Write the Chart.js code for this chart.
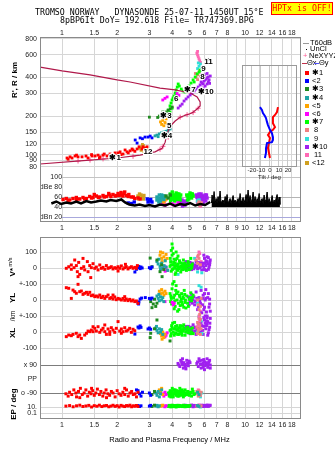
<!DOCTYPE html>
<html>
<head>
<meta charset="utf-8">
<title>Tromso Dynasonde ionogram</title>
<script src="https://cdn.jsdelivr.net/npm/chart.js@4.4.1/dist/chart.umd.min.js"></script>
<style>
  html, body { margin: 0; padding: 0; background: #fff; }
  #page { position: relative; width: 335px; height: 451px; overflow: hidden; font-family: 'Liberation Sans', Arial, sans-serif; color: #000; }
  #page canvas { position: absolute; left: 0; top: 0; }
  .txt { position: absolute; white-space: pre; line-height: 9px; }
  .mono { font-family: 'DejaVu Sans Mono', 'Liberation Mono', monospace; font-size: 8.25px; }
  .rot { position: absolute; white-space: pre; transform: translate(-50%, -50%) rotate(-90deg); font-weight: bold; font-size: 8px; line-height: 9px; }
  .lg { position: absolute; font-size: 7.5px; line-height: 8px; white-space: pre; }
  .sw { position: absolute; width: 4px; height: 4px; }
  .ln { position: absolute; height: 1px; }
  #hptx { position: absolute; left: 271px; top: 2px; width: 60px; height: 11px; border: 1px solid #f00; background: #ff0; color: #f00; text-align: center; line-height: 11px; }
</style>
</head>
<body>
<div id="page">
  <canvas id="cA" width="335" height="451"></canvas>
  <canvas id="cB" width="335" height="451"></canvas>
  <canvas id="cC" width="335" height="451"></canvas>
  <canvas id="cD" width="335" height="451"></canvas>

  <div class="txt mono" style="left:35px;top:8px">TROMSO NORWAY   DYNASONDE 25-07-11 1450UT 15°E</div>
  <div class="txt mono" style="left:60px;top:16px">8pBP6It DoY= 192.618 File= TR747369.BPG</div>
  <div id="hptx" class="mono">HPTx is OFF!</div>

  <div class="rot" style="left:14px;top:80px">R', R / km</div>
  <div class="rot" style="left:11px;top:267px">V*<span style="font-size:5.5px;font-weight:normal;vertical-align:3px"> m/s</span></div>
  <div class="rot" style="left:12px;top:298px">YL</div>
  <div class="rot" style="left:12px;top:316px;font-size:6.5px;font-weight:normal">/km</div>
  <div class="rot" style="left:12px;top:333px">XL</div>
  <div class="rot" style="left:13px;top:404px">EP / deg</div>
  <div class="txt" style="left:0;width:335px;top:435px;text-align:center;font-size:7.5px;padding-left:4px;box-sizing:border-box">Radio and Plasma Frequency / MHz</div>

  <div class="ln" style="left:303px;top:43px;width:6px;background:#999"></div>
  <div class="lg" style="left:310px;top:39px">T60dB</div>
  <div class="ln" style="left:306px;top:49px;width:1px;background:#000"></div>
  <div class="lg" style="left:310px;top:45px">UnCl</div>
  <div class="lg" style="left:303px;top:52px;color:#ff5a96">+</div>
  <div class="lg" style="left:309px;top:52px">NeXYYZ</div>
  <div class="ln" style="left:302px;top:63px;width:5px;background:#c0304a"></div>
  <div class="lg" style="left:307px;top:59px">Θx</div>
  <div class="ln" style="left:314px;top:63px;width:5px;background:#5050ff"></div>
  <div class="lg" style="left:319px;top:59px">Θy</div>
  <div id="legend"></div>
</div>

<script>
// ---------- axes ----------
const freqTicks = [1, 1.5, 2, 3, 4, 5, 6, 7, 8, 9, 10, 12, 14, 16, 18];
const freqLabelsOuter = ['1', '1.5', '2', '3', '4', '5', '6', '7', '8', '', '10', '12', '14', '16', '18'];
const freqLabelsMid = ['1', '1.5', '2', '3', '4', '5', '6', '7', '8', '9', '10', '12', '14', '16', '18'];
const heightTicks = [80, 90, 100, 120, 150, 200, 300, 400, 600, 800];
const ampTicks = [20, 40, 60, 80, 100];
const ampLabels = ['dBn 20', '40', '60', 'dBe 80', '100'];
const tiltTicks = [-20, -10, 0, 10, 20];

// ---------- series ----------
const seriesNames = ['✱1', '<2', '✱3', '✱4', '<5', '<6', '✱7', ' 8', ' 9', '✱10', ' 11', '<12'];
const seriesColors = ['#ff0000', '#0000ff', '#1f8a1f', '#1ea5a5', '#ffa500', '#ff00ff', '#00ff00',
                      '#f08080', '#30e0d8', '#a020f0', '#ff69b4', '#d0a020'];

// ---------- virtual height R' (km) vs frequency (MHz) ----------
const h1 = [[1.065,94],[1.08,92],[1.106,96],[1.134,94],[1.178,97.5],[1.2,99],[1.223,96],[1.286,96],[1.352,97.5],[1.387,94],
  [1.45,100],[1.458,97.5],[1.515,97.5],[1.573,99],[1.6,94],[1.613,96],[1.675,99],[1.7,101],[1.762,97.5],[1.83,101],
  [1.9,99],[1.949,103],[1.95,98],[2.023,103],[2.075,105],[2.1,100],[2.154,101],[2.21,108.6],[2.265,105],[2.3,103],
  [2.354,107],[2.413,110.6],[2.443,108.6],[2.5,106],[2.57,110.6],[2.635,115],[2.736,110.6],[2.772,115],[2.85,112],[2.913,115]];
const h2 = [[2.51,130],[2.57,123],[2.67,135],[2.75,133],[2.84,137],[2.95,137],[3.03,139.5],[3.1,135]];
const h3 = [[3.0,196],[3.33,195],[3.4,200],[3.5,205],[3.55,215],[3.6,210],[3.7,215],[3.75,210],[3.8,222],[3.9,228],[4.0,235]];
const h4 = [[3.22,140],[3.3,142],[3.35,138],[3.4,145],[3.5,148],[3.55,143],[3.6,150],[3.7,152],[3.75,148],[3.8,155],[3.9,158]];
const h5 = [[3.45,180],[3.5,172],[3.55,185],[3.58,195],[3.6,168],[3.65,178],[3.7,190],[3.75,175],[3.8,168]];
const h6 = [[3.55,267],[3.65,275],[3.75,282],[4.25,300],[4.35,290]];
const h7 = [[3.8,223],[3.89,215],[3.89,240],[3.94,253],[3.99,230],[3.99,267],[4.04,277],[4.09,287],[4.15,303],[4.2,292],
  [4.2,320],[4.26,337],[4.31,356],[4.37,343],[4.48,325],[4.59,314],[4.7,308],[4.76,331],[4.82,320],[4.94,343],
  [5.01,331],[5.07,362],[5.2,383],[5.27,369],[5.34,404],[5.47,427],[5.61,442],[5.68,458]];
const h8 = [[5.35,430],[5.4,400],[5.5,385],[5.5,420],[5.6,440],[5.65,455],[5.7,410]];
const h9 = [[5.5,470],[5.55,520],[5.6,490],[5.7,510],[5.75,455],[5.8,480],[5.9,460]];
const h10 = [[4.31,231],[4.42,240],[4.53,248],[4.64,262],[4.76,272],[4.88,282],[5.01,292],[5.13,303],[5.27,314],[5.4,325],
  [5.54,337],[5.68,350],[5.75,369],[5.83,362],[5.9,331],[5.9,356],[5.97,376],[6.05,343],[6.05,383],[6.13,390],
  [6.2,356],[6.2,397],[6.28,404],[6.36,383],[6.45,411],[5.8,420],[6.0,420],[6.2,430],[6.3,370],[6.4,360],[5.9,400]];
const h11 = [[5.45,620],[5.5,600],[5.5,640],[5.55,580],[5.6,560],[5.65,540],[5.7,525]];
const h12 = [[2.65,112],[2.7,108],[2.72,115],[2.75,120],[2.78,118],[2.8,106],[2.85,113],[2.9,110]];
const hUncl = [[6.1,560],[6.3,560],[6.35,550]];
const profileLine = [[0.758,483],[1.0,450],[1.422,419],[2.0,383],[2.354,369],[3.43,331],[4.15,320],[5.01,303],[5.47,282],
  [5.68,258],[5.68,240],[5.47,227],[5.13,211],[4.76,204],[4.42,196],[4.15,183],[3.89,166],[3.72,142],[3.66,125],
  [3.52,112],[3.22,105],[2.67,99],[2.0,94],[1.254,89.4],[0.758,84.4]];
const neXYZ = [[1.223,89],[1.422,90.5],[1.675,92.5],[1.876,93.5],[2.443,97],[3.43,110],[3.56,116],[3.8,137],[4.42,196],
  [4.82,205],[5.2,213],[5.54,230]];
const noteText = ['✱1', '12', '✱3', '5', '✱4', '6', '✱7', '✱10', '11', '9', '8'];
const noteFreq = [1.95, 2.95, 3.7, 3.85, 3.72, 4.2, 5.0, 6.1, 6.3, 5.92, 5.85];
const noteHeight = [94, 106, 200, 167, 140, 272, 320, 308, 526, 465, 404];

// ---------- tilt inset (deg vs km) ----------
const tiltY = [[-11.1,235],[-8.9,223],[-7.8,211],[-5.6,200],[-4.4,193],[-3.3,180],[-2.2,170],[0,156],[2.2,147],[3.3,137],
  [3.3,130],[2.2,125],[-3.3,123],[-4.4,112],[-4.4,103],[-5.6,94]];
const tiltX = [[8.9,235],[7.8,215],[5.6,204],[3.3,196],[3.3,186],[3.3,176],[5.6,164],[3.3,156],[0,150],[-2.2,142],[0,135],
  [-1.1,123],[-2.2,113],[-1.1,103],[0,94]];

// ---------- amplitude (dB) ----------
const a1 = [[1.013,55],[1.055,57],[1.102,54],[1.148,57],[1.197,59],[1.249,56],[1.302,59],[1.358,57],[1.417,61],[1.477,59],
  [1.54,62],[1.607,60],[1.675,63],[1.747,61],[1.822,64],[1.899,65],[1.98,63],[2.023,67],[2.109,64],[2.18,67],[2.245,63],
  [2.316,65],[2.393,60],[2.496,57],[2.6,58],[2.67,56],[1.08,53],[1.2,55],[1.33,56],[1.45,58],[1.58,59],[1.7,60],
  [1.85,61],[1.95,62],[2.05,63],[2.15,62],[2.3,61],[2.45,60],[1.5,65],[1.8,67],[2.1,69],[2.2,70]];
const a2 = [[2.3,48],[2.4,47],[2.48,50],[2.92,56],[2.95,50],[3.0,52],[3.05,55],[3.1,50]];
const a3 = [[3.7,62],[3.8,58],[3.9,64]];
const a4 = [[3.3,60],[3.3,54],[3.35,55],[3.38,50],[3.4,64],[3.4,58],[3.45,52],[3.5,58],[3.5,64],[3.55,62],[3.6,55],
  [3.6,62],[3.65,60]];
const a5 = [[3.45,56],[3.5,52],[3.55,58],[3.6,50],[3.65,54],[3.7,56]];
const a6 = [[3.55,46],[3.6,48],[3.65,44],[4.0,46],[4.1,44],[4.3,48],[4.35,46]];
const a7 = [[3.9,66],[3.92,52],[3.93,62],[3.95,60],[3.97,56],[4.0,70],[4.03,64],[4.05,56],[4.08,60],[4.1,64],[4.12,52],
  [4.15,58],[4.18,62],[4.2,68],[4.22,58],[4.25,54],[4.28,66],[4.3,62],[4.32,56],[4.35,66],[4.38,62],[4.4,58],[4.42,54],
  [4.45,64],[4.8,64],[4.85,54],[4.85,62],[4.9,60],[4.92,56],[4.95,64],[5.0,68],[5.05,60],[5.1,58],[5.1,66],[5.15,66],[5.2,62]];
const a8 = [[5.55,46],[5.6,50],[5.65,44],[5.75,48]];
const a9 = [[5.5,52],[5.6,54]];
const a10 = [[4.4,52],[4.45,48],[4.5,46],[4.52,54],[4.55,42],[4.58,46],[4.6,50],[4.65,52],[4.7,44],[4.75,50],[4.8,48],
  [5.4,64],[5.45,60],[5.5,58],[5.5,50],[5.55,64],[5.55,54],[5.6,66],[5.6,58],[5.65,48],[5.7,56],[5.7,62],[5.75,66],
  [5.8,62],[5.8,56],[5.85,46],[5.85,60],[5.9,54],[5.9,48],[5.95,62],[6.0,60],[6.0,56],[6.05,64],[6.1,52],[6.1,60],
  [6.15,64],[6.2,58]];
const a11 = [[5.7,42],[5.8,46]];
const a12 = [[2.6,62],[2.62,56],[2.65,66],[2.68,58],[2.7,64],[2.75,60],[2.78,56],[2.8,63]];
const aNoiseLine = [[0.874,47],[0.93,51],[0.99,46],[1.055,49],[1.12,47],[1.197,51],[1.27,47],[1.358,52],[1.44,49],[1.54,51],
  [1.63,53],[1.747,51],[1.84,54],[1.98,52],[2.109,55],[2.21,49],[2.33,45],[2.496,43],[2.65,45],[2.84,42],[3.0,44],
  [3.22,41],[3.43,45],[3.66,43],[3.89,47],[4.15,42],[4.42,46],[4.7,44],[5.01,48],[5.34,43],[5.68,46],[6.05,44],[6.45,50]];
const aNoiseSpikes = [[6.55,48],[6.6,64],[6.68,50],[6.77,71],[6.86,47],[6.94,57],[7.03,49],[7.12,61],[7.21,50],[7.3,72],
  [7.39,48],[7.49,52],[7.58,54],[7.68,47],[7.78,61],[7.87,50],[7.97,65],[8.07,48],[8.18,52],[8.28,57],[8.38,47],[8.49,55],
  [8.6,63],[8.71,49],[8.82,54],[8.93,48],[9.04,52],[9.16,57],[9.27,47],[9.39,67],[9.51,50],[9.63,53],[9.75,59],[9.87,48],
  [10.0,55],[10.13,65],[10.25,49],[10.38,74],[10.52,52],[10.65,63],[10.78,48],[10.92,56],[11.06,70],[11.2,50],[11.34,61],
  [11.48,48],[11.63,57],[11.78,52],[11.93,67],[12.08,49],[12.23,53],[12.39,57],[12.54,47],[12.7,64],[12.86,51],[13.03,55],
  [13.19,70],[13.36,49],[13.53,57],[13.7,48],[13.88,52],[14.05,63],[14.23,47],[14.41,54],[14.59,49],[14.78,58],[14.96,65],
  [15.15,48],[15.34,60],[15.5,45]];

// ---------- V* (m/s) ----------
const v1 = [[1.055,-2],[1.088,8],[1.124,19],[1.124,-8],[1.163,2],[1.173,50],[1.197,15],[1.212,-23],[1.223,-54],[1.233,35],
  [1.249,-40],[1.275,-2],[1.302,60],[1.314,8],[1.33,-12],[1.375,40],[1.387,-23],[1.417,15],[1.435,-60],[1.446,2],[1.477,27],
  [1.509,-2],[1.54,6],[1.573,-12],[1.607,19],[1.64,-2],[1.675,4],[1.712,-8],[1.747,15],[1.784,-2],[1.822,2],[1.859,8],
  [1.899,-6],[1.94,2],[1.98,-2],[2.023,8],[2.023,-19],[2.066,-2],[2.109,13],[2.154,-6],[2.2,2],[2.22,23],[2.245,8],
  [2.293,-6],[2.342,2],[2.393,8],[2.443,-2],[2.496,4],[2.548,-2],[2.58,15]];
const v2 = [[2.5,-25],[2.55,-8],[2.6,2],[2.63,10],[2.67,-4],[2.7,6],[2.74,0],[3.0,2],[3.05,-4],[3.1,6]];
const v3 = [[3.03,62],[3.1,8],[3.3,50],[3.43,-23],[3.5,20],[3.52,-54],[3.6,-10]];
const v4 = [[3.3,40],[3.35,25],[3.38,55],[3.43,10],[3.45,-8],[3.5,30],[3.55,0],[3.61,15],[3.66,45],[3.7,5],[3.78,-15]];
const v5 = [[3.43,80],[3.45,100],[3.5,60],[3.52,40],[3.55,95],[3.6,70],[3.66,50],[3.7,85],[3.75,60]];
const v6 = [[3.55,0],[3.6,-10],[3.65,8],[3.66,-20],[3.7,5],[3.75,-15]];
const v7 = [[3.89,10],[3.9,60],[3.92,40],[3.93,20],[3.95,-20],[3.95,110],[3.99,80],[3.99,150],[4.0,-10],[4.02,20],[4.02,125],
  [4.05,-5],[4.05,90],[4.07,35],[4.1,55],[4.12,0],[4.13,15],[4.15,30],[4.15,-40],[4.17,50],[4.18,-30],[4.2,100],[4.22,10],
  [4.23,-8],[4.25,60],[4.27,20],[4.28,-15],[4.3,75],[4.31,25],[4.33,5],[4.35,-5],[4.38,45],[4.4,35],[4.42,5],[4.45,-25],
  [4.46,10],[4.48,30],[4.5,-10],[4.53,10],[4.56,25],[4.58,-10],[4.6,50],[4.63,-2],[4.65,15],[4.68,30],[4.7,-5],[4.72,8],
  [4.75,20],[4.78,-15],[4.8,5],[4.85,12],[4.88,40],[4.9,30],[4.95,-10],[5.0,15],[5.02,-5],[5.05,60],[5.1,0],[5.12,10],[5.15,25]];
const v8 = [[5.4,50],[5.5,30],[5.55,80],[5.6,60],[5.7,20]];
const v9 = [[4.3,-40],[5.3,60],[5.5,-25],[5.8,-30]];
const v10 = [[4.6,10],[4.65,25],[4.7,-5],[4.75,40],[4.8,20],[4.85,5],[4.9,0],[4.95,20],[5.0,35],[5.05,10],[5.1,-10],[5.15,30],
  [5.2,15],[5.25,-5],[5.3,5],[5.35,20],[5.4,40],[5.45,10],[5.5,-5],[5.55,35],[5.6,25],[5.65,0],[5.7,10],[5.75,30],[5.8,-12],
  [5.85,15],[5.9,30],[5.95,80],[5.95,5],[6.0,60],[6.0,-10],[6.05,30],[6.1,15],[6.12,45],[6.15,-15],[6.2,40],[6.2,70],
  [6.25,25],[6.3,-8],[6.3,65],[6.35,5],[6.4,20],[6.42,35],[6.45,50]];
const v11 = [[5.5,70],[5.6,100],[5.65,90],[5.75,40]];
const v12 = [];

// ---------- YL (km) ----------
const yl1 = [[1.055,77],[1.088,73],[1.124,10],[1.148,62],[1.173,52],[1.197,42],[1.223,98],[1.249,52],[1.275,56],[1.302,35],
  [1.33,42],[1.36,48],[1.387,35],[1.417,48],[1.446,27],[1.477,31],[1.509,21],[1.54,25],[1.573,19],[1.607,31],[1.64,15],
  [1.675,23],[1.712,10],[1.747,21],[1.784,31],[1.822,10],[1.859,15],[1.899,6],[1.899,31],[1.94,19],[1.98,2],[2.023,10],
  [2.066,6],[2.109,0],[2.154,10],[2.2,-2],[2.2,21],[2.245,6],[2.293,-4],[2.342,4],[2.393,-6],[2.443,0],[2.496,-10],
  [2.548,-6],[2.6,-21]];
const yl2 = [[2.6,-19],[2.62,-25],[2.63,-12],[2.67,6],[2.72,12],[2.85,15],[3.0,10],[3.05,6],[3.1,12]];
const yl3 = [[3.05,-10],[3.1,-48],[3.15,-25],[3.2,5],[3.25,-40],[3.3,-20]];
const yl4 = [[3.3,25],[3.35,10],[3.38,35],[3.4,-5],[3.45,20],[3.5,0],[3.55,15],[3.6,-10]];
const yl5 = [[3.4,55],[3.45,40],[3.5,65],[3.55,45],[3.6,30],[3.65,55],[3.7,40]];
const yl6 = [[3.65,-10],[4.0,-15],[4.05,-30],[4.1,-20]];
const yl7 = [[3.89,40],[3.92,-10],[3.93,25],[3.95,10],[3.97,-25],[3.99,70],[4.02,100],[4.05,-20],[4.07,15],[4.09,115],
  [4.1,-55],[4.12,30],[4.13,-5],[4.15,-40],[4.18,60],[4.2,90],[4.22,40],[4.25,0],[4.28,-70],[4.3,50],[4.32,-20],[4.35,-60],
  [4.38,30],[4.4,20],[4.42,-35],[4.45,-10],[4.48,5],[4.5,40],[4.52,-15],[4.55,-30],[4.58,20],[4.6,10],[4.62,-45],[4.65,60],
  [4.68,35],[4.7,-15],[4.72,0],[4.75,-50],[4.8,25],[4.85,-20],[4.9,-40],[4.95,5],[5.0,15],[5.05,45],[5.1,-5],[5.15,15],[5.2,30]];
const yl8 = [[5.5,0],[5.55,-30],[5.55,-180],[5.6,-60],[5.6,-150],[5.65,-90],[5.7,-120],[5.7,-40],[5.75,10]];
const yl9 = [[5.5,-20],[5.6,90],[5.75,80]];
const yl10 = [[4.9,20],[4.95,-30],[5.0,-10],[5.05,5],[5.1,35],[5.15,-20],[5.2,0],[5.25,20],[5.3,-30],[5.35,-10],[5.4,50],
  [5.45,10],[5.5,-60],[5.55,-40],[5.6,15],[5.65,-5],[5.7,-20],[5.75,60],[5.8,-80],[5.85,-30],[5.85,10],[5.9,30],[5.95,-110],
  [5.95,-60],[6.0,-45],[6.0,40],[6.05,0],[6.1,10],[6.1,65],[6.15,-75],[6.15,-130],[6.2,-100],[6.25,15],[6.3,40],[6.35,-45],
  [6.4,-25],[6.4,5],[6.45,-70]];
const yl11 = [[5.55,-160],[5.6,-100],[5.65,-130],[5.7,-70]];
const yl12 = [];

// ---------- XL (km) ----------
const xl1 = [[1.055,-29],[1.088,-19],[1.124,-23],[1.148,-15],[1.197,-8],[1.223,-29],[1.249,-19],[1.275,-40],[1.33,-19],
  [1.36,-8],[1.387,6],[1.417,2],[1.446,12],[1.477,2],[1.477,33],[1.509,23],[1.54,6],[1.573,33],[1.607,-2],[1.64,12],
  [1.675,23],[1.712,2],[1.712,44],[1.747,-15],[1.784,19],[1.822,2],[1.822,-15],[1.859,27],[1.899,12],[1.94,-2],[1.98,23],
  [2.023,65],[2.066,6],[2.109,19],[2.109,-8],[2.154,2],[2.2,27],[2.245,6],[2.293,12],[2.342,23],[2.393,-2],[2.443,17],[2.496,8]];
const xl2 = [[2.5,-13],[2.6,31],[2.63,25],[2.67,38],[2.7,29],[2.95,19],[3.0,25],[3.05,17]];
const xl3 = [[3.03,-35],[3.05,-8],[3.2,20],[3.3,75],[3.89,-56]];
const xl4 = [[3.25,25],[3.28,35],[3.3,10],[3.35,-5],[3.4,20],[3.45,0],[3.5,15],[3.55,-15]];
const xl5 = [[3.45,-10],[3.5,-25],[3.52,-45],[3.55,0],[3.6,-35],[3.65,-15]];
const xl6 = [[3.6,-15],[3.65,-30],[3.7,-20],[3.75,-5]];
const xl7 = [[3.89,10],[3.92,-25],[3.93,15],[3.95,-10],[3.97,40],[3.99,30],[4.02,55],[4.05,0],[4.07,20],[4.1,-20],[4.12,60],
  [4.13,-10],[4.15,20],[4.17,35],[4.2,-5],[4.23,15],[4.25,40],[4.28,-15],[4.3,10],[4.33,25],[4.35,-15],[4.38,5],[4.4,25],
  [4.43,40],[4.45,0],[4.48,15],[4.5,-10],[4.53,-20],[4.55,35],[4.58,15],[4.6,5],[4.62,45],[4.65,25],[4.7,-20],[4.75,0],
  [4.8,15],[4.85,30],[4.9,-5],[4.95,10],[5.0,20],[5.05,-10],[5.1,0],[5.15,25],[5.2,-10]];
const xl8 = [[5.45,30],[5.5,60],[5.5,-10],[5.55,10],[5.6,85],[5.65,40],[5.7,-15],[5.75,20]];
const xl9 = [[5.5,0],[5.6,95],[5.75,70],[5.8,-10]];
const xl10 = [[4.7,20],[4.75,35],[4.8,0],[4.85,15],[4.9,35],[4.95,0],[5.0,-10],[5.05,30],[5.1,15],[5.15,0],[5.2,45],[5.25,25],
  [5.3,5],[5.35,30],[5.4,-15],[5.45,10],[5.5,25],[5.55,45],[5.6,60],[5.65,20],[5.7,0],[5.75,60],[5.8,40],[5.85,10],
  [5.9,-15],[5.95,35],[6.0,75],[6.05,100],[6.05,55],[6.1,20],[6.15,40],[6.2,50],[6.2,90],[6.25,-20],[6.25,65],[6.3,-5],
  [6.35,15],[6.4,30],[6.42,55],[6.45,85]];
const xl11 = [[5.55,-5],[5.6,50],[5.7,70]];
const xl12 = [];

// ---------- PP (deg), x mode near +90, o mode near -90 ----------
const pp1 = [[1.05,-95],[1.08,-110],[1.1,-85],[1.13,-100],[1.16,-70],[1.19,-90],[1.2,-115],[1.23,-80],[1.25,-120],[1.26,-60],
  [1.29,-100],[1.32,-90],[1.35,-70],[1.38,-110],[1.41,-85],[1.44,-95],[1.45,-60],[1.47,-75],[1.5,-105],[1.53,-90],
  [1.56,-65],[1.6,-100],[1.63,-80],[1.67,-110],[1.7,-90],[1.74,-70],[1.75,-120],[1.78,-95],[1.82,-105],[1.86,-80],
  [1.9,-90],[1.95,-115],[2.0,-75],[2.05,-95],[2.1,-105],[2.15,-85],[2.2,-100],[2.2,-60],[2.25,-70],[2.3,-110],[2.35,-90],
  [2.4,-80],[2.45,-100],[2.5,-95],[2.55,-115],[2.6,-85]];
const pp2 = [[2.55,-70],[2.6,-75],[2.65,-95],[2.7,-110],[2.75,-85],[3.0,-90],[3.05,-105]];
const pp3 = [[3.1,-100],[3.2,-80]];
const pp4 = [[3.25,-90],[3.3,-105],[3.35,-80],[3.4,-115],[3.45,-95],[3.5,-70],[5.5,-85],[5.6,-100]];
const pp5 = [[3.4,-70],[3.45,-85],[3.5,-60],[3.55,-100]];
const pp6 = [[3.55,-95],[3.6,-110],[3.65,-85],[3.7,-100]];
const pp7 = [[3.8,-90],[3.83,-95],[3.85,-110],[3.88,-85],[3.9,-75],[3.93,-115],[3.95,-100],[3.98,-80],[4.0,-85],[4.0,-60],
  [4.03,-100],[4.05,-115],[4.08,-70],[4.1,-95],[4.13,-85],[4.15,-70],[4.18,-95],[4.2,-105],[4.23,-75],[4.25,-90],[4.28,-110],
  [4.3,-80],[4.33,-95],[4.35,-110],[4.38,-80],[4.4,-95],[4.4,-60],[4.43,-105],[4.45,-75],[4.48,-90],[4.5,-100],[4.53,-70],
  [4.55,-85],[4.58,-100],[4.6,-115],[4.63,-80],[4.65,-90],[4.68,-105],[4.7,-70],[4.75,-90],[4.8,-100],[4.85,-80],[4.9,-85],
  [4.95,-105],[5.0,-95],[5.05,-85],[5.1,-110],[5.15,-65],[5.2,-80],[5.25,-100],[5.3,-95]];
const pp8 = [[5.45,-80],[5.5,-95],[5.55,-110],[5.6,-75],[5.65,-90],[5.7,-105],[5.75,-85]];
const pp9 = [[5.7,-115],[5.8,-90]];
const pp10 = [[4.3,100],[4.35,90],[4.4,80],[4.45,120],[4.5,110],[4.52,95],[4.55,130],[4.6,70],[4.62,105],[4.65,90],[4.7,95],
  [4.72,80],[4.75,65],[4.8,120],[4.85,100],[4.9,85],[4.95,115],[5.0,105],[5.45,100],[5.5,110],[5.55,80],[5.6,130],
  [5.65,115],[5.7,95],[5.75,70],[5.8,120],[5.85,95],[5.9,100],[5.9,75],[5.95,125],[6.0,60],[6.0,110],[6.05,85],[6.1,95],
  [6.15,105],[6.2,130],[6.25,75],[6.3,95],[6.35,110],[6.4,120],[6.45,90],[6.45,70]];
const pp11 = [[5.55,-70],[5.65,-100]];
const pp12 = [];

// ---------- EP ----------
const ep1 = [[1.05,20],[1.1,30],[1.15,12],[1.2,25],[1.25,40],[1.3,15],[1.35,22],[1.4,35],[1.45,10],[1.5,28],[1.55,18],
  [1.6,40],[1.65,14],[1.7,25],[1.75,32],[1.8,12],[1.85,20],[1.9,38],[1.95,16],[2.0,28],[2.05,10],[2.1,35],[2.15,20],
  [2.2,14],[2.25,30],[2.3,22],[2.35,40],[2.4,12],[2.45,25],[2.5,18],[2.55,32],[2.6,15]];
const ep2 = [[2.6,30],[2.65,15],[2.7,25],[3.0,20],[3.05,35]];
const ep3 = [[3.1,15],[3.2,40]];
const ep4 = [[3.25,20],[3.3,35],[3.35,12],[3.4,25],[5.5,30],[5.6,15]];
const ep5 = [[3.45,18],[3.5,30],[3.55,40]];
const ep6 = [[3.6,20],[3.65,12],[3.7,28]];
const ep7 = [[3.8,20],[3.83,15],[3.85,35],[3.88,25],[3.9,12],[3.93,18],[3.95,25],[3.98,12],[4.0,40],[4.03,28],[4.05,15],
  [4.08,20],[4.1,30],[4.13,14],[4.15,20],[4.18,30],[4.2,10],[4.23,18],[4.25,35],[4.28,25],[4.3,22],[4.33,35],[4.35,14],
  [4.38,20],[4.4,30],[4.45,25],[4.5,18],[4.55,14],[4.6,38],[4.65,22],[4.7,12],[4.75,30],[4.8,25],[4.85,18],[4.9,16],
  [4.95,22],[5.0,30]];
const ep8 = [[5.45,20],[5.55,35],[5.65,14],[5.75,25]];
const ep9 = [[5.7,10]];
const ep10 = [[4.6,25],[4.65,18],[4.7,40],[4.75,28],[4.8,15],[4.85,22],[4.9,30],[4.95,15],[5.0,20],[5.05,30],[5.1,45],
  [5.15,20],[5.2,12],[5.25,35],[5.3,28],[5.35,22],[5.4,18],[5.45,28],[5.55,20],[5.6,35],[5.65,28],[5.7,22],[5.75,15],
  [5.8,40],[5.85,25],[5.9,14],[5.95,35],[6.0,30],[6.05,18],[6.1,20],[6.15,28],[6.2,45],[6.25,22],[6.3,16],[6.35,35],
  [6.4,28],[6.45,38]];
const ep11 = [[5.6,45]];
const ep12 = [];

// ---------- layout ----------
const FONT = "'Liberation Sans', Arial, sans-serif";
const GRID = '#d6d6d6';
const FRAME = '#8a8a8a';
const FMIN = 0.758, FMAX = 20.2;
const C_TOP = 237, C_BOTTOM = 419;
const rows = { v: { zero: 268, ppu: 0.16 }, l: { zero: 300, ppu: 0.16 }, x: { zero: 332, ppu: 0.16 }, p: { zero: 379, ppu: 14 / 90 } };
const epRow = { ref: 407, refVal: 10, ppd: 3 };
const cTicks = [['v', 100, '100'], ['v', 0, '0'], ['l', 100, '+-100'], ['l', 0, '0'], ['x', 100, '+-100'], ['x', 0, '0'],
  ['x', -100, '-100'], ['p', 90, 'x 90'], ['p', 0, 'PP'], ['p', -90, 'o -90'], ['e', 10, '10.'], ['e', 0.1, '0.1']];

Chart.defaults.font.family = FONT;
Chart.defaults.color = '#222';

function rowPixel(row, val) {
  if (row === 'e') return epRow.ref - epRow.ppd * Math.log10(val / epRow.refVal);
  return rows[row].zero - val * rows[row].ppu;
}
function rowScale(r) {
  return { type: 'linear', display: false, min: -(C_BOTTOM - r.zero) / r.ppu, max: (r.zero - C_TOP) / r.ppu };
}
const pts = arr => arr.map(([x, y]) => ({ x, y }));

function freqAxis(position, labels, height, pad) {
  return {
    type: 'logarithmic', position, min: FMIN, max: FMAX,
    afterBuildTicks: s => { s.ticks = freqTicks.map(v => ({ value: v })); },
    afterFit: s => { s.height = height; },
    ticks: { autoSkip: false, maxRotation: 0, padding: pad, font: { size: 7 }, color: '#222', callback: (v, i) => labels[i] },
    grid: { color: GRID, drawTicks: false },
    border: { display: false }
  };
}

const framePlugin = {
  id: 'frame',
  afterDraw(chart, args, opts) {
    const { ctx, chartArea: a } = chart;
    const s = opts.sides || 'tblr';
    ctx.save();
    ctx.strokeStyle = opts.color || FRAME;
    ctx.lineWidth = 1;
    ctx.beginPath();
    const L = Math.round(a.left) + 0.5, R = Math.round(a.right) - 0.5, T = Math.round(a.top) + 0.5, B = Math.round(a.bottom) - 0.5;
    if (s.includes('t')) { ctx.moveTo(L, T); ctx.lineTo(R, T); }
    if (s.includes('b')) { ctx.moveTo(L, B); ctx.lineTo(R, B); }
    if (s.includes('l')) { ctx.moveTo(L, a.top); ctx.lineTo(L, a.bottom); }
    if (s.includes('r')) { ctx.moveTo(R, a.top); ctx.lineTo(R, a.bottom); }
    ctx.stroke();
    ctx.restore();
  }
};

const notePlugin = {
  id: 'notes',
  afterDatasetsDraw(chart) {
    const { ctx, scales: { x, y } } = chart;
    ctx.save();
    ctx.font = 'bold 8px ' + FONT;
    ctx.textAlign = 'center';
    ctx.textBaseline = 'middle';
    ctx.lineWidth = 2;
    ctx.strokeStyle = '#fff';
    ctx.fillStyle = '#000';
    noteText.forEach((t, i) => {
      const px = x.getPixelForValue(noteFreq[i]), py = y.getPixelForValue(noteHeight[i]);
      ctx.strokeText(t, px, py);
      ctx.fillText(t, px, py);
    });
    ctx.restore();
  }
};

const ampLabelPlugin = {
  id: 'ampLabels',
  beforeDatasetsDraw(chart) {
    const { ctx, chartArea: a, scales: { x, y } } = chart;
    const xr = x.getPixelForValue(1);
    ctx.save();
    ctx.fillStyle = '#fff';
    ctx.fillRect(a.left + 1, a.top, xr - a.left - 1.5, a.bottom - a.top - 1);
    ctx.font = '7px ' + FONT;
    ctx.textAlign = 'right';
    ctx.textBaseline = 'middle';
    ctx.fillStyle = '#222';
    ampTicks.forEach((v, i) => ctx.fillText(ampLabels[i], xr, y.getPixelForValue(v)));
    ctx.restore();
  }
};

function scatterSet(data, color, yAxisID, r) {
  return { data: pts(data), backgroundColor: color, borderWidth: 0, pointStyle: 'rect', pointRadius: r, yAxisID };
}
const base = { responsive: false, animation: false, events: [], plugins: { legend: { display: false }, tooltip: { enabled: false } } };

// ---------- panel A: heights ----------
const heightSets = [h1, h2, h3, h4, h5, h6, h7, h8, h9, h10, h11, h12];
new Chart(document.getElementById('cA'), {
  type: 'scatter',
  data: {
    datasets: [
      { data: pts(profileLine), showLine: true, borderColor: '#b0184a', borderWidth: 1.2, pointRadius: 0, yAxisID: 'y' },
      ...heightSets.map((d, i) => scatterSet(d, seriesColors[i], 'y', 2)),
      { data: pts(hUncl), backgroundColor: '#000', borderWidth: 0, pointStyle: 'rect', pointRadius: 0.8, yAxisID: 'y' },
      { data: pts(neXYZ), pointStyle: 'cross', pointRadius: 2.5, borderColor: '#ff5a96', borderWidth: 1, yAxisID: 'y' }
    ]
  },
  options: {
    ...base,
    layout: { padding: { left: 0, right: 34, top: 0, bottom: 451 - 172 } },
    plugins: { ...base.plugins, frame: { sides: 'tlr' } },
    scales: {
      x: freqAxis('top', freqLabelsOuter, 37, 0),
      y: {
        type: 'logarithmic', min: 73.1, max: 829,
        afterBuildTicks: s => { s.ticks = heightTicks.map(v => ({ value: v })); },
        afterFit: s => { s.width = 40; },
        ticks: { padding: 3, font: { size: 7 }, color: '#222', callback: v => String(v) },
        grid: { color: GRID, drawTicks: false },
        border: { display: false }
      }
    }
  },
  plugins: [framePlugin, notePlugin]
});

// ---------- panel B: amplitudes ----------
const ampSets = [a1, a2, a3, a4, a5, a6, a7, a8, a9, a10, a11, a12];
const ampGrid = { 20: '#a8a8dc', 40: '#b4b4b4', 60: '#b4b4b4', 80: 'rgba(0,0,0,0)', 100: '#c4c4c4' };
new Chart(document.getElementById('cB'), {
  type: 'scatter',
  data: {
    datasets: [
      { data: pts(aNoiseLine), showLine: true, borderColor: '#000', borderWidth: 2.5, pointRadius: 0, yAxisID: 'y' },
      { data: pts(aNoiseSpikes), showLine: true, borderColor: '#000', backgroundColor: '#000', borderWidth: 1,
        pointRadius: 0, fill: { value: 40 }, yAxisID: 'y' },
      ...ampSets.map((d, i) => scatterSet(d, seriesColors[i], 'y', 2.4))
    ]
  },
  options: {
    ...base,
    layout: { padding: { left: 0, right: 34, top: 172, bottom: 451 - 222 - 14 } },
    plugins: { ...base.plugins, frame: { sides: 'blr' } },
    scales: {
      x: freqAxis('bottom', freqLabelsMid, 14, 1.5),
      y: {
        type: 'linear', min: 10, max: 110,
        afterBuildTicks: s => { s.ticks = ampTicks.map(v => ({ value: v })); },
        afterFit: s => { s.width = 40; },
        ticks: { display: false },
        grid: { color: c => ampGrid[c.tick.value], drawTicks: false },
        border: { display: false }
      }
    }
  },
  plugins: [framePlugin, ampLabelPlugin]
});

// ---------- panel C: V*, YL, XL, PP, EP ----------
const cPanels = [
  { id: 'yv', sets: [v1, v2, v3, v4, v5, v6, v7, v8, v9, v10, v11, v12] },
  { id: 'yl', sets: [yl1, yl2, yl3, yl4, yl5, yl6, yl7, yl8, yl9, yl10, yl11, yl12] },
  { id: 'yx', sets: [xl1, xl2, xl3, xl4, xl5, xl6, xl7, xl8, xl9, xl10, xl11, xl12] },
  { id: 'yp', sets: [pp1, pp2, pp3, pp4, pp5, pp6, pp7, pp8, pp9, pp10, pp11, pp12] },
  { id: 'ye', sets: [ep1, ep2, ep3, ep4, ep5, ep6, ep7, ep8, ep9, ep10, ep11, ep12] }
];
const cDatasets = [];
cPanels.forEach(p => p.sets.forEach((d, i) => cDatasets.push(scatterSet(d, seriesColors[i], p.id, 2.1))));
new Chart(document.getElementById('cC'), {
  type: 'scatter',
  data: { datasets: cDatasets },
  options: {
    ...base,
    layout: { padding: { left: 0, right: 34, top: C_TOP, bottom: 451 - C_BOTTOM - 14 } },
    plugins: { ...base.plugins, frame: { sides: 'tblr' } },
    scales: {
      x: freqAxis('bottom', freqLabelsOuter, 14, 1.5),
      yc: {
        type: 'linear', position: 'left', min: C_TOP, max: C_BOTTOM, reverse: true,
        afterBuildTicks: s => { s.ticks = cTicks.map(t => ({ value: rowPixel(t[0], t[1]) })); },
        afterFit: s => { s.width = 40; },
        ticks: { padding: 3, font: { size: 7 }, color: '#222', callback: (v, i) => cTicks[i][2] },
        grid: {
          drawTicks: false,
          color: c => {
            const lab = cTicks[c.index] ? cTicks[c.index][2] : '';
            if (lab === 'PP') return 'rgba(0,0,0,0)';
            if (lab === 'x 90' || lab === 'o -90') return '#7c7c7c';
            return GRID;
          }
        },
        border: { display: false }
      },
      yv: rowScale(rows.v),
      yl: rowScale(rows.l),
      yx: rowScale(rows.x),
      yp: rowScale(rows.p),
      ye: {
        type: 'logarithmic', display: false,
        min: epRow.refVal * Math.pow(10, -(C_BOTTOM - epRow.ref) / epRow.ppd),
        max: epRow.refVal * Math.pow(10, (epRow.ref - C_TOP) / epRow.ppd)
      }
    }
  },
  plugins: [framePlugin]
});

// ---------- inset: tilt ----------
new Chart(document.getElementById('cD'), {
  type: 'scatter',
  data: {
    datasets: [
      { data: pts(tiltY), showLine: true, borderColor: '#0000ff', borderWidth: 2, pointRadius: 0 },
      { data: pts(tiltX), showLine: true, borderColor: '#ff0000', borderWidth: 2, pointRadius: 0 }
    ]
  },
  options: {
    ...base,
    layout: { padding: { left: 242, right: 38, top: 65, bottom: 451 - 167 - 14 } },
    plugins: { ...base.plugins, frame: { sides: 'tblr', color: '#9a9a9a' } },
    scales: {
      x: {
        type: 'linear', min: -31, max: 30,
        afterBuildTicks: s => { s.ticks = tiltTicks.map(v => ({ value: v })); },
        afterFit: s => { s.height = 14; },
        ticks: { autoSkip: false, maxRotation: 0, padding: 0, font: { size: 6 }, color: '#222' },
        title: { display: true, text: 'Tilt / deg', font: { size: 6 }, padding: 0, color: '#222' },
        grid: { color: '#c8c8c8', drawTicks: false },
        border: { display: false }
      },
      y: { type: 'logarithmic', min: 80, max: 501, display: false }
    }
  },
  plugins: [framePlugin]
});

// ---------- legend ----------
const legend = document.getElementById('legend');
seriesNames.forEach((name, i) => {
  const y = 73 + i * 8.2;
  const sw = document.createElement('div');
  sw.className = 'sw';
  sw.style.left = '305px';
  sw.style.top = (y - 2) + 'px';
  sw.style.background = seriesColors[i];
  legend.appendChild(sw);
  const t = document.createElement('div');
  t.className = 'lg';
  t.style.left = '312px';
  t.style.top = (y - 4) + 'px';
  t.textContent = name;
  legend.appendChild(t);
});
</script>
</body>
</html>
